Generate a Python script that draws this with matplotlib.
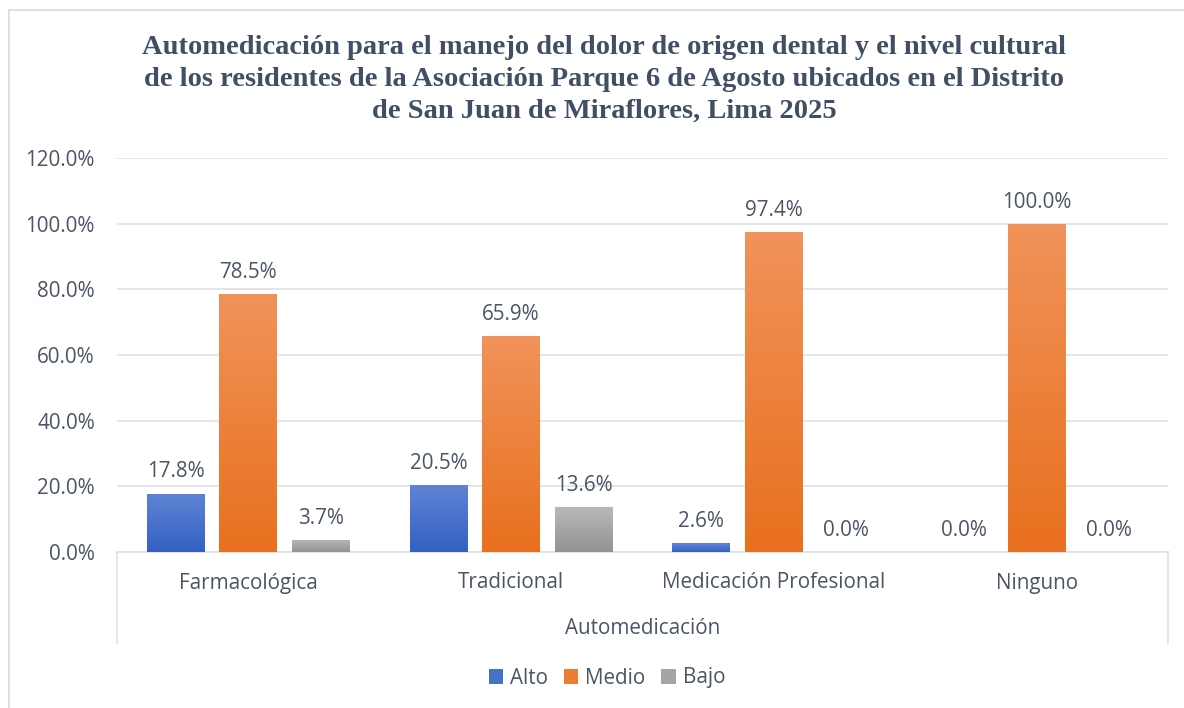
import numpy as np
import matplotlib
matplotlib.use("Agg")
import matplotlib.pyplot as plt
from matplotlib.lines import Line2D
from matplotlib.patches import Patch
from matplotlib.colors import LinearSegmentedColormap

categories = ["Farmacológica", "Tradicional", "Medicación Profesional", "Ninguno"]
series_names = ["Alto", "Medio", "Bajo"]
alto = [17.8, 20.5, 2.6, 0.0]
medio = [78.5, 65.9, 97.4, 100.0]
bajo = [3.7, 13.6, 0.0, 0.0]
yticks = [0, 20, 40, 60, 80, 100, 120]
title = ("Automedicación para el manejo del dolor de origen dental y el nivel cultural\n"
         "de los residentes de la Asociación Parque 6 de Agosto ubicados en el Distrito\n"
         "de San Juan de Miraflores, Lima 2025")
xlabel = "Automedicación"

text_color = "#4a5566"
grid_color = "#dde0e5"
sans = ["Open Sans", "DejaVu Sans"]
fs = 14.9

# (top colour, bottom colour, legend colour)
colors = [("#5f84d4", "#3461c2", "#4472c4"),
          ("#f1935a", "#e8701e", "#ed7d31"),
          ("#b8b8b8", "#939393", "#a5a5a5")]

fig = plt.figure(figsize=(11.84, 7.08), dpi=100)
ax = fig.add_axes([117/1184, 1-552/708, (1168-117)/1184, (552-158)/708])

x = np.arange(len(categories))
width = 0.22
offsets = [-0.276, 0.0, 0.276]
data = [alto, medio, bajo]

for vals, off, (ctop, cbot, cleg) in zip(data, offsets, colors):
    bars = ax.bar(x + off, vals, width, color=cleg, zorder=2, linewidth=0)
    cmap = LinearSegmentedColormap.from_list("g", [cbot, ctop])
    for b, v in zip(bars, vals):
        if v > 0:
            grad = np.linspace(1, 0, 100).reshape(-1, 1)
            im = ax.imshow(grad, extent=[b.get_x(), b.get_x() + b.get_width(), 0, b.get_height()],
                           aspect="auto", cmap=cmap, origin="upper", zorder=3, interpolation="bilinear")
            im.set_clip_path(b)
        ax.annotate(f"{v:.1f}%", (b.get_x() + b.get_width()/2, v), xytext=(0, 8),
                    textcoords="offset points", ha="center", va="bottom",
                    fontsize=fs, color=text_color, family=sans, zorder=4)

ax.set_xlim(-0.5, len(categories) - 0.5)
ax.set_ylim(0, 120)
ax.set_yticks(yticks)
ax.set_yticklabels([f"{t:.1f}%" for t in yticks], family=sans, fontsize=fs, color=text_color)
ax.tick_params(axis="y", length=0, pad=16)
ax.set_xticks([])
ax.yaxis.grid(True, color=grid_color, linewidth=1.2, zorder=0)
ax.set_axisbelow(True)
for s in ["top", "right", "left"]:
    ax.spines[s].set_visible(False)
ax.spines["bottom"].set_color(grid_color)
ax.spines["bottom"].set_linewidth(1.2)

# category table box
depth = -(643-552)/(552-158)
for xx in [0, 1]:
    ax.add_line(Line2D([xx, xx], [0, depth], transform=ax.transAxes, color=grid_color,
                       linewidth=1.2, clip_on=False))
for i, c in enumerate(categories):
    ax.text(i, -(31/394)*120, c, ha="center", va="center", fontsize=fs,
            color=text_color, family=sans, clip_on=False)
ax.text(0.5, -(76/394), xlabel, transform=ax.transAxes, ha="center", va="center",
        fontsize=fs, color=text_color, family=sans)

fig.text(604/1184, 1-79/708, title, ha="center", va="center", fontsize=20.5,
         fontweight="bold", family=["Liberation Serif", "DejaVu Serif"], color="#414f64",
         linespacing=1.36)

handles = [Patch(facecolor=c[2], edgecolor="none") for c in colors]
leg = fig.legend(handles, series_names, loc="center", bbox_to_anchor=(607/1184, 1-678/708),
                 ncol=3, frameon=False, handlelength=0.7, handleheight=0.7, handletextpad=0.35,
                 columnspacing=0.75, prop={"family": sans, "size": fs})
for t in leg.get_texts():
    t.set_color(text_color)

# outer frame
fig.add_artist(Line2D([9/1184, 9/1184], [0, 1-10/708], transform=fig.transFigure,
                      color="#d9d9d9", linewidth=1.2))
fig.add_artist(Line2D([9/1184, 1], [1-10/708, 1-10/708], transform=fig.transFigure,
                      color="#d9d9d9", linewidth=1.2))

fig.savefig("out.png", dpi=100)
